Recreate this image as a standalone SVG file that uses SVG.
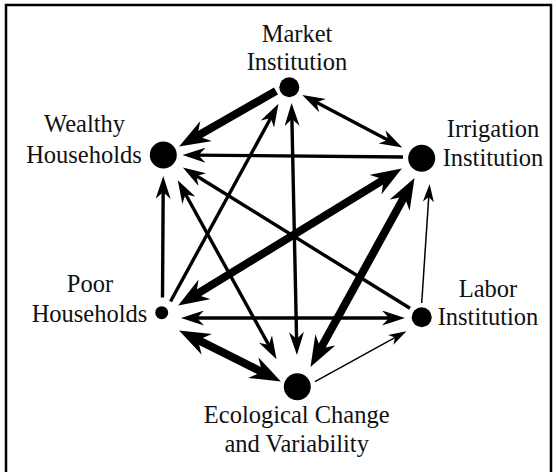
<svg xmlns="http://www.w3.org/2000/svg" width="557" height="472" viewBox="0 0 557 472">
  <style>
    .lbl { font-family: 'Liberation Serif', 'Times New Roman', Tinos, 'DejaVu Serif', serif; font-size: 24.5px; fill: #111; text-anchor: middle; }
    .node { fill: #000; }
    .e { stroke: #000; fill: none; stroke-linecap: butt; }
    .thin { stroke-width: 1.5; }
    .med { stroke-width: 3.4; }
    .thick { stroke-width: 8; }
  </style>
  <defs>
    <marker id="headThin" markerUnits="userSpaceOnUse" markerWidth="18" markerHeight="12" viewBox="0 -6 18 12" refX="12" refY="0" orient="auto-start-reverse">
      <path d="M0,-5.5 L18,0 L0,5.5 L5,0 z" fill="#000"/>
    </marker>
    <marker id="headMed" markerUnits="userSpaceOnUse" markerWidth="23" markerHeight="15" viewBox="0 -7.5 23 15" refX="12" refY="0" orient="auto-start-reverse">
      <path d="M0,-7.5 L23,0 L0,7.5 L7,0 z" fill="#000"/>
    </marker>
    <marker id="headThick" markerUnits="userSpaceOnUse" markerWidth="31" markerHeight="23" viewBox="0 -11.5 31 23" refX="15" refY="0" orient="auto-start-reverse">
      <path d="M0,-11.5 L31,0 L0,11.5 L10,0 z" fill="#000"/>
    </marker>
  </defs>

  <!-- frame -->
  <rect x="6" y="5" width="545" height="490" fill="none" stroke="#000" stroke-width="2.5"/>

  <!-- connectors -->
  <g id="connectors">
    <line class="e thick" x1="276" y1="91" x2="193" y2="138.5" stroke-width="9" marker-end="url(#headThick)"/>
    <line class="e med" x1="312" y1="100" x2="392.6" y2="142.4" marker-start="url(#headMed)" marker-end="url(#headMed)"/>
    <line class="e med" x1="403" y1="157" x2="193.5" y2="155.1" marker-end="url(#headMed)"/>
    <line class="e med" x1="410" y1="308.3" x2="192.2" y2="173.3" marker-end="url(#headMed)"/>
    <line class="e med" x1="183.1" y1="189.8" x2="271.2" y2="349.5" marker-start="url(#headMed)" marker-end="url(#headMed)"/>
    <line class="e med" x1="162.5" y1="297.5" x2="163.2" y2="187" marker-end="url(#headMed)"/>
    <line class="e med" x1="170.5" y1="301.5" x2="273.2" y2="113.5" marker-end="url(#headMed)"/>
    <line class="e med" x1="291.8" y1="114" x2="296.7" y2="344" marker-start="url(#headMed)" marker-end="url(#headMed)"/>
    <line class="e thick" x1="388.2" y1="176.8" x2="191.8" y2="297.2" marker-start="url(#headThick)" marker-end="url(#headThick)"/>
    <line class="e thick" x1="406.8" y1="192.1" x2="318.2" y2="352.9" stroke-width="9" marker-start="url(#headThick)" marker-end="url(#headThick)"/>
    <line class="e thin" x1="421.7" y1="303" x2="429.2" y2="190" marker-end="url(#headThin)"/>
    <line class="e med" x1="192" y1="318" x2="394" y2="318" marker-start="url(#headMed)" marker-end="url(#headMed)"/>
    <line class="e thick" x1="193.4" y1="337.7" x2="266.6" y2="374.3" stroke-width="7.5" marker-start="url(#headThick)" marker-end="url(#headThick)"/>
    <line class="e thin" x1="315" y1="381.7" x2="401.2" y2="334.1" marker-end="url(#headThin)"/>
  </g>

  <!-- nodes -->
  <g id="market">
    <circle class="node" cx="289.3" cy="87.3" r="10"/>
    <text class="lbl" x="297" y="41.5">Market</text>
    <text class="lbl" x="297" y="69.5">Institution</text>
  </g>
  <g id="wealthy">
    <circle class="node" cx="163.3" cy="155" r="13.5"/>
    <text class="lbl" x="84.5" y="131.5">Wealthy</text>
    <text class="lbl" x="84" y="163">Households</text>
  </g>
  <g id="irrigation">
    <circle class="node" cx="421.7" cy="158.3" r="13.5"/>
    <text class="lbl" x="493" y="136.5">Irrigation</text>
    <text class="lbl" x="493" y="165.5">Institution</text>
  </g>
  <g id="poor">
    <circle class="node" cx="161.7" cy="312.7" r="6.5"/>
    <text class="lbl" x="90" y="292">Poor</text>
    <text class="lbl" x="89.5" y="321.5">Households</text>
  </g>
  <g id="labor">
    <circle class="node" cx="421.7" cy="317.3" r="10"/>
    <text class="lbl" x="488" y="296.5">Labor</text>
    <text class="lbl" x="488" y="325">Institution</text>
  </g>
  <g id="ecological">
    <circle class="node" cx="297.3" cy="386.7" r="13.5"/>
    <text class="lbl" x="296.7" y="422.5">Ecological Change</text>
    <text class="lbl" x="296.7" y="451.5">and Variability</text>
  </g>
</svg>
